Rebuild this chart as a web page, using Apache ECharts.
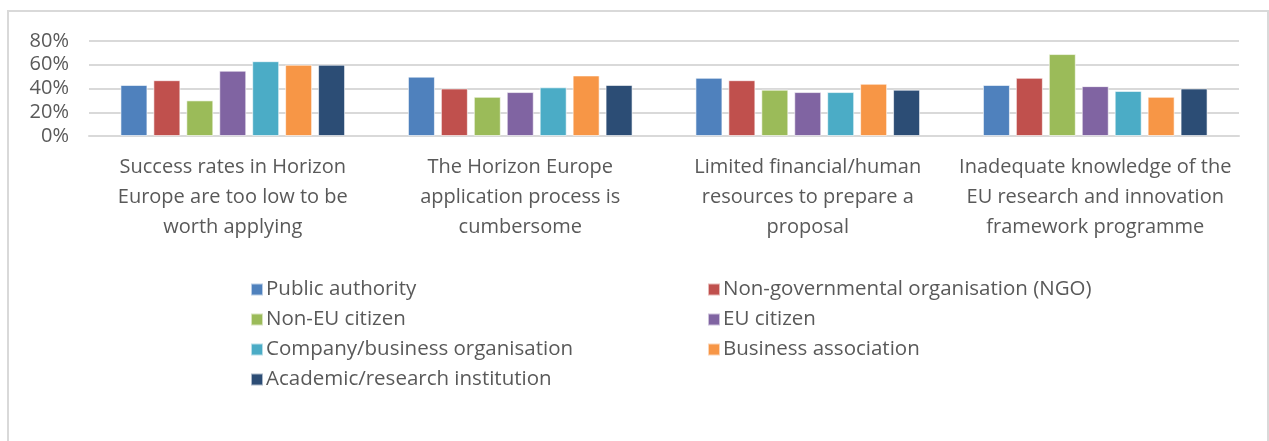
<!DOCTYPE html>
<html>
<head>
<meta charset="utf-8">
<script src="https://cdn.jsdelivr.net/npm/echarts@6/dist/echarts.min.js"></script>
<style>
  html, body { margin: 0; padding: 0; background: #fff; }
  #chart { width: 1269px; height: 441px; }
</style>
</head>
<body>
<div id="chart"></div>
<script>
// categories (x axis)
const categories = [
  'Success rates in Horizon\nEurope are too low to be\nworth applying',
  'The Horizon Europe\napplication process is\ncumbersome',
  'Limited financial/human\nresources to prepare a\nproposal',
  'Inadequate knowledge of the\nEU research and innovation\nframework programme'
]

// series names
const seriesNames = [
  'Public authority',
  'Non-governmental organisation (NGO)',
  'Non-EU citizen',
  'EU citizen',
  'Company/business organisation',
  'Business association',
  'Academic/research institution'
]

// values (%) per respondent type, one per category
const publicAuthority = [43, 50, 49, 43]
const ngo = [47, 40, 47, 49]
const nonEuCitizen = [30, 33, 39, 69]
const euCitizen = [55, 37, 37, 42]
const company = [63, 41, 37, 38]
const businessAssoc = [60, 51, 44, 33]
const academic = [60, 43, 39, 40]

const seriesValues = [publicAuthority, ngo, nonEuCitizen, euCitizen, company, businessAssoc, academic]
const colors = ['#4f81bd', '#c0504d', '#9bbb59', '#8064a2', '#4bacc6', '#f79646', '#2c4d75']

const font = '"Open Sans", "Noto Sans", sans-serif'
const textColor = '#595959'

const chart = echarts.init(document.getElementById('chart'))

const legendBase = {
  orient: 'vertical',
  top: 274,
  itemWidth: 12,
  itemHeight: 12,
  itemGap: 9,
  icon: 'rect',
  textStyle: { fontFamily: font, fontSize: 20.5, color: textColor, padding: [0, 0, 0, -2] },
  selectedMode: false
}

chart.setOption({
  backgroundColor: '#fff',
  animation: false,
  color: colors,
  graphic: [{
    type: 'rect',
    shape: { x: 8, y: 11, width: 1260, height: 440 },
    style: { fill: 'none', stroke: '#d9d9d9', lineWidth: 2 },
    silent: true
  }],
  legend: [
    Object.assign({}, legendBase, { left: 245, data: [seriesNames[0], seriesNames[2], seriesNames[4], seriesNames[6]] }),
    Object.assign({}, legendBase, { left: 702, data: [seriesNames[1], seriesNames[3], seriesNames[5]] })
  ],
  grid: {
    left: 89,
    right: 30,
    top: 41,
    bottom: 305,
    containLabel: false
  },
  xAxis: {
    type: 'category',
    data: categories,
    axisLine: { show: true, lineStyle: { color: '#d9d9d9', width: 2 } },
    axisTick: { show: false },
    axisLabel: {
      interval: 0,
      margin: 16,
      fontFamily: font,
      fontSize: 20,
      lineHeight: 30,
      color: textColor
    }
  },
  yAxis: {
    type: 'value',
    min: 0,
    max: 80,
    interval: 20,
    axisLine: { show: false },
    axisTick: { show: false },
    axisLabel: {
      formatter: '{value}%',
      margin: 20,
      fontFamily: font,
      fontSize: 20,
      color: textColor
    },
    splitLine: { lineStyle: { color: '#d9d9d9', width: 2 } }
  },
  series: seriesNames.map((name, i) => ({
    name: name,
    type: 'bar',
    data: seriesValues[i],
    barWidth: 27,
    barGap: '22%',
    itemStyle: { borderColor: 'rgba(255,255,255,0.6)', borderWidth: 1 }
  }))
})
</script>
</body>
</html>
